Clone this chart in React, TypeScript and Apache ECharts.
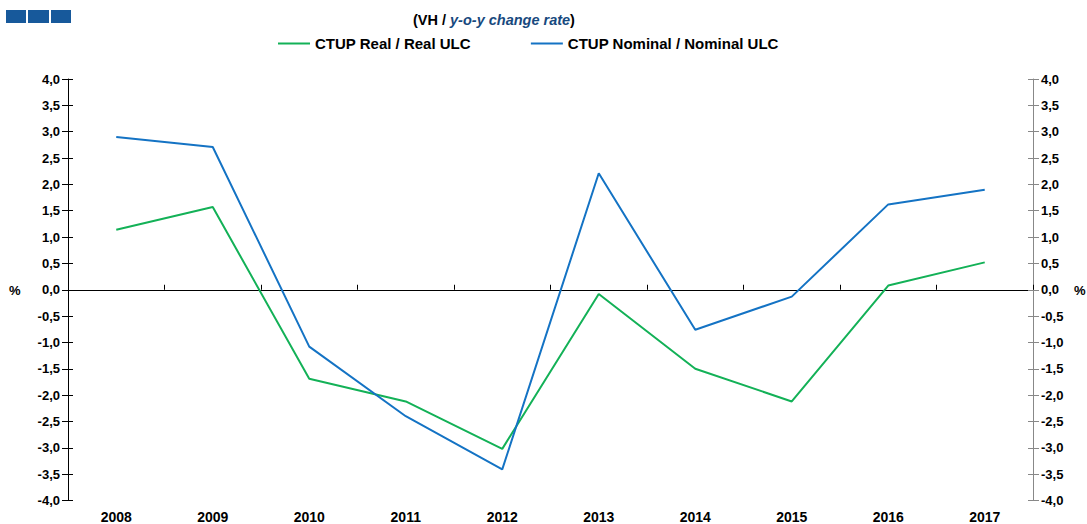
import React, { useEffect, useRef } from "react";
import * as echarts from "echarts";

const years = ["2008", "2009", "2010", "2011", "2012", "2013", "2014", "2015", "2016", "2017"];
const realSeries = [1.14, 1.57, -1.69, -2.12, -3.02, -0.08, -1.5, -2.12, 0.08, 0.52];
const nominalSeries = [2.9, 2.71, -1.08, -2.4, -3.41, 2.21, -0.76, -0.13, 1.62, 1.9];
const realName = "CTUP Real / Real ULC";
const nominalName = "CTUP Nominal / Nominal ULC";
const yMin = -4;
const yMax = 4;
const yStep = 0.5;

const FONT = "'Liberation Sans', Arial, sans-serif";
const fmt = (v: number) => v.toFixed(1).replace(".", ",");

export default function App() {
  const ref = useRef<HTMLDivElement>(null);
  useEffect(() => {
    if (!ref.current) return;
    const chart = echarts.init(ref.current, null, { renderer: "svg" });
    const labelStyle = { fontFamily: FONT, fontWeight: "bold" as const, fontSize: 13, color: "#000" };
    const yBase = { type: "value" as const, min: yMin, max: yMax, interval: yStep, splitLine: { show: false } };
    chart.setOption({
      animation: false,
      backgroundColor: "#fff",
      grid: { left: 68, right: 54, top: 79, bottom: 23.5, containLabel: false },
      legend: {
        top: 36,
        left: 278,
        padding: 0,
        itemWidth: 32,
        itemHeight: 2,
        itemGap: 60,
        icon: "rect",
        textStyle: { fontFamily: FONT, fontWeight: "bold", fontSize: 15, color: "#000" },
        data: [realName, nominalName],
      },
      xAxis: [
        {
          type: "category",
          data: years,
          position: "bottom",
          axisLine: { show: false, onZero: false },
          axisTick: { show: false },
          axisLabel: { ...labelStyle, fontSize: 14, margin: 9 },
        },
        {
          type: "category",
          data: years,
          axisLine: { show: true, onZero: true, lineStyle: { color: "#000", width: 1 } },
          axisTick: { show: true, length: 5, lineStyle: { color: "#000" } },
          axisLabel: { show: false },
        },
      ],
      yAxis: [
        {
          ...yBase,
          position: "left",
          axisLine: { show: true, lineStyle: { color: "#000" } },
          axisTick: { show: true, length: 6, lineStyle: { color: "#000" } },
          axisLabel: { ...labelStyle, margin: 8, formatter: fmt },
        },
        {
          ...yBase,
          position: "right",
          axisLine: { show: true, lineStyle: { color: "#888" } },
          axisTick: { show: true, length: 6, lineStyle: { color: "#888" } },
          axisLabel: { ...labelStyle, margin: 8, formatter: fmt },
        },
        {
          ...yBase,
          position: "left",
          axisLine: { show: false },
          axisTick: { show: true, inside: true, length: 5, lineStyle: { color: "#000" } },
          axisLabel: { show: false },
        },
        {
          ...yBase,
          position: "right",
          axisLine: { show: false },
          axisTick: { show: true, inside: true, length: 5, lineStyle: { color: "#888" } },
          axisLabel: { show: false },
        },
      ],
      graphic: [
        { type: "rect", shape: { x: 6, y: 10, width: 20, height: 13 }, style: { fill: "#17599b" } },
        { type: "rect", shape: { x: 28, y: 10, width: 21, height: 13 }, style: { fill: "#17599b" } },
        { type: "rect", shape: { x: 51, y: 10, width: 20, height: 13 }, style: { fill: "#17599b" } },
        {
          type: "text",
          left: 413,
          top: 12,
          style: {
            text: "{a|(VH / }{b|y-o-y change rate}{a|)}",
            rich: {
              a: { fontFamily: FONT, fontWeight: "bold", fontSize: 14.5, fill: "#000" },
              b: { fontFamily: FONT, fontWeight: "bold", fontStyle: "italic", fontSize: 14.5, fill: "#17497e" },
            },
          },
        },
        {
          type: "text",
          left: 9,
          top: 284,
          style: { text: "%", fontFamily: FONT, fontWeight: "bold", fontSize: 13, fill: "#000" },
        },
        {
          type: "text",
          left: 1074,
          top: 284,
          style: { text: "%", fontFamily: FONT, fontWeight: "bold", fontSize: 13, fill: "#000" },
        },
      ],
      series: [
        {
          name: realName,
          type: "line",
          data: realSeries,
          xAxisIndex: 0,
          yAxisIndex: 0,
          symbol: "none",
          color: "#13b157",
          lineStyle: { width: 2, color: "#13b157" },
        },
        {
          name: nominalName,
          type: "line",
          data: nominalSeries,
          xAxisIndex: 0,
          yAxisIndex: 0,
          symbol: "none",
          color: "#1473c4",
          lineStyle: { width: 2, color: "#1473c4" },
        },
      ],
    });
    return () => chart.dispose();
  }, []);
  return (
    <div
      ref={ref}
      style={{ position: "fixed", left: 0, top: 0, width: 1087, height: 524, background: "#fff" }}
    />
  );
}
